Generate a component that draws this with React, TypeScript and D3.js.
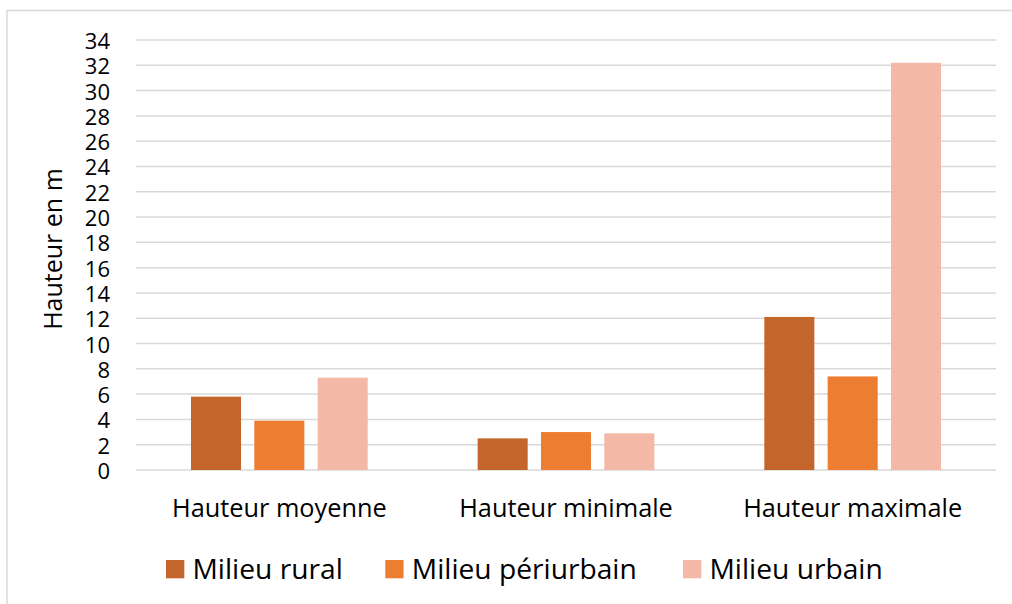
import React from "react";
import * as d3 from "d3";

const categories = ["Hauteur moyenne", "Hauteur minimale", "Hauteur maximale"];
const seriesNames = ["Milieu rural", "Milieu périurbain", "Milieu urbain"];
const rural = [5.8, 2.5, 12.1];
const periurbain = [3.9, 3.0, 7.4];
const urbain = [7.3, 2.9, 32.2];
const yTicks = [0, 2, 4, 6, 8, 10, 12, 14, 16, 18, 20, 22, 24, 26, 28, 30, 32, 34];
const colors = ["#C4662B", "#ED7D31", "#F4B9A6"];
const yTitle = "Hauteur en m";

const seriesValues = [rural, periurbain, urbain];

const W = 1012;
const H = 604;
const FONT = "'Open Sans', 'DejaVu Sans', sans-serif";

export default function App() {
  const plotLeft = 136;
  const plotRight = 996;
  const y = d3.scaleLinear().domain([0, 34]).range([470, 40]);
  const x = d3.scaleBand<string>().domain(categories).range([plotLeft, plotRight]).padding(0);
  const groupW = 176.7;
  const off = (x.bandwidth() - groupW) / 2;
  const inner = d3
    .scaleBand<string>()
    .domain(seriesNames)
    .range([off, off + groupW])
    .paddingInner(0.21)
    .paddingOuter(0);

  const legendX = [166, 385.3, 683];
  const sq = 18.3;

  return (
    <svg
      width={W}
      height={H}
      style={{ position: "absolute", left: 0, top: 0, background: "#fff" }}
      fontFamily={FONT}
    >
      <rect x={0} y={0} width={W} height={H} fill="#fff" />
      <rect x={7} y={10.5} width={W + 20} height={H + 20} fill="none" stroke="#D9D9D9" strokeWidth={1.5} />
      {yTicks.map((t) => (
        <g key={t}>
          <line x1={plotLeft} x2={plotRight} y1={y(t)} y2={y(t)} stroke="#D9D9D9" strokeWidth={1.5} />
          <text x={110} y={y(t)} textAnchor="end" dominantBaseline="central" fontSize={22} fill="#000">
            {t}
          </text>
        </g>
      ))}
      {categories.map((c, ci) => (
        <g key={c}>
          {seriesNames.map((s, si) => {
            const v = seriesValues[si][ci];
            return (
              <rect
                key={s}
                x={(x(c) as number) + (inner(s) as number)}
                y={y(v)}
                width={inner.bandwidth()}
                height={y(0) - y(v)}
                fill={colors[si]}
              />
            );
          })}
          <text
            x={(x(c) as number) + x.bandwidth() / 2}
            y={517}
            textAnchor="middle"
            fontSize={25.3}
            fill="#000"
          >
            {c}
          </text>
        </g>
      ))}
      <text
        transform={`translate(52,249) rotate(-90)`}
        textAnchor="middle"
        dominantBaseline="central"
        fontSize={25}
        fill="#000"
      >
        {yTitle}
      </text>
      {seriesNames.map((s, i) => (
        <g key={s}>
          <rect x={legendX[i]} y={560} width={sq} height={sq} fill={colors[i]} />
          <text x={legendX[i] + 26.5} y={578.5} fontSize={28.2} fill="#000">
            {s}
          </text>
        </g>
      ))}
    </svg>
  );
}
